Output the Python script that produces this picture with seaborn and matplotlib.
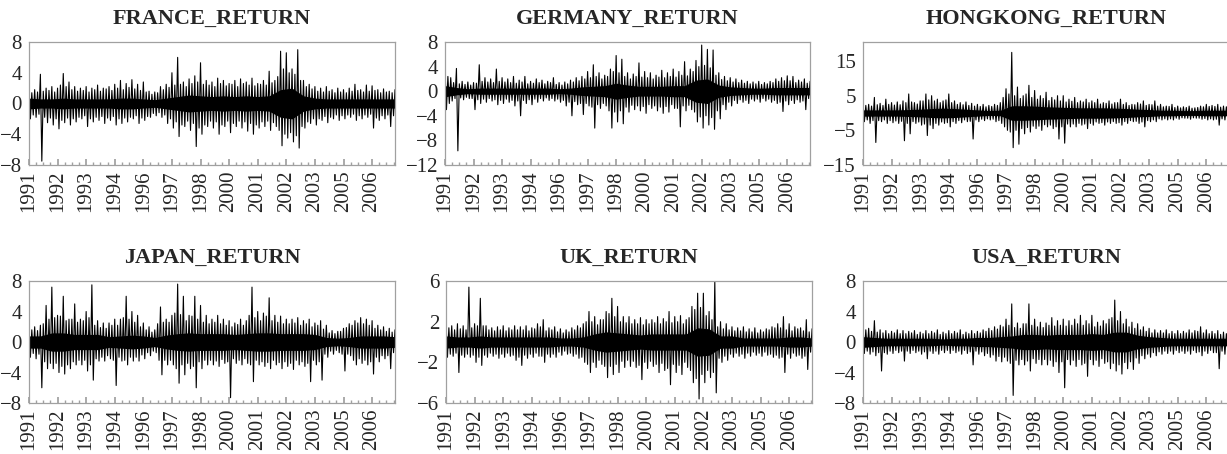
import matplotlib.pyplot as plt
import numpy as np
import pandas as pd
import seaborn as sns
from matplotlib.ticker import MultipleLocator

# tick labels along the observation axis (EViews style, not evenly spaced years)
year_labels = ['1991', '1992', '1993', '1994', '1996', '1997', '1998',
               '2000', '2001', '2002', '2003', '2005', '2006']

# extreme high / low per slot (one slot = 0.2 tick steps)
france_hi = [2.0, 1.8, 3.8, 2.0, 2.2, 2.0, 3.9, 2.8, 2.2, 2.0, 2.2, 2.0, 2.4,
             2.0, 2.2, 2.5, 3.0, 2.6, 3.1, 2.5, 2.8, 1.6, 1.5, 2.2, 2.5, 4.0,
             6.0, 2.8, 3.2, 3.6, 5.3, 3.0, 2.8, 3.3, 3.0, 2.6, 3.0, 3.2, 2.8,
             3.3, 2.6, 3.0, 4.2, 3.0, 6.8, 6.6, 4.5, 7.0, 3.0, 2.5, 2.2, 2.0,
             2.2, 1.8, 2.0, 1.8, 2.0, 2.5, 1.8, 2.4, 2.3, 1.8, 1.9, 1.6, 1.8]
france_lo = [-2.0, -1.8, -7.5, -2.5, -2.8, -3.3, -2.5, -2.8, -2.4, -2.0, -3.0,
             -2.4, -2.2, -2.6, -2.2, -2.8, -2.6, -2.4, -2.0, -2.6, -2.2, -1.8,
             -1.6, -1.8, -2.6, -3.2, -4.3, -3.0, -3.5, -5.6, -4.0, -3.0, -3.2,
             -4.0, -3.0, -3.8, -3.0, -3.2, -3.6, -4.0, -3.2, -3.0, -3.5, -3.0,
             -5.5, -4.5, -5.0, -5.8, -3.2, -2.6, -2.8, -2.2, -2.5, -2.0, -2.2,
             -2.0, -1.8, -2.2, -2.0, -1.8, -3.2, -2.2, -2.0, -3.0, -1.5]
germany_hi = [3.5, 2.2, 3.7, 1.6, 1.5, 1.4, 4.3, 2.2, 2.0, 3.6, 2.2, 2.0, 2.4,
              1.8, 2.4, 1.6, 2.0, 1.8, 1.6, 2.2, 1.4, 1.5, 1.8, 2.2, 2.4, 3.2,
              4.3, 3.0, 2.6, 3.6, 5.8, 5.2, 3.0, 2.8, 4.6, 3.2, 3.0, 2.6, 3.4,
              3.0, 3.6, 3.2, 4.8, 3.6, 5.0, 7.5, 6.8, 6.7, 3.0, 2.4, 2.2, 2.0,
              1.8, 1.6, 1.5, 1.6, 1.4, 1.6, 2.0, 2.2, 2.5, 2.4, 1.8, 2.0, 1.6]
germany_lo = [-3.0, -1.6, -9.7, -1.4, -1.2, -3.0, -2.0, -1.8, -1.6, -2.2, -2.0,
              -1.8, -2.4, -4.0, -2.0, -2.2, -1.8, -1.6, -1.5, -1.6, -1.8, -2.4,
              -4.0, -2.2, -3.8, -2.4, -6.0, -2.8, -2.4, -6.0, -5.0, -5.3, -3.4,
              -3.0, -3.2, -3.6, -2.8, -3.2, -3.6, -3.4, -2.8, -5.8, -3.2, -3.0,
              -5.0, -6.0, -5.5, -6.2, -4.5, -3.0, -2.4, -2.0, -1.8, -2.0, -1.6,
              -1.8, -1.6, -1.8, -2.0, -3.3, -2.2, -2.0, -1.8, -3.0, -1.6]
hongkong_hi = [3.0, 2.5, 4.5, 2.8, 4.0, 3.0, 3.2, 3.5, 5.5, 3.0, 3.5, 5.5, 5.0,
               4.0, 3.5, 5.5, 3.5, 3.0, 3.2, 2.8, 2.5, 2.5, 2.2, 2.5, 3.0, 7.0,
               17.5, 7.5, 5.0, 8.0, 6.5, 5.0, 6.0, 4.5, 5.0, 5.0, 4.0, 4.5, 3.5,
               4.0, 3.5, 4.0, 3.0, 3.5, 3.0, 4.0, 3.0, 2.5, 3.0, 3.5, 2.5, 3.5,
               2.5, 2.0, 2.5, 2.0, 1.8, 2.0, 1.5, 2.0, 2.5, 2.2, 2.5, 2.0, 2.2]
hongkong_lo = [-2.5, -3.0, -8.5, -2.5, -3.0, -2.8, -3.0, -8.0, -6.0, -3.0, -3.5,
               -6.5, -4.5, -3.5, -3.0, -4.0, -3.0, -2.8, -2.5, -7.5, -2.5, -2.2,
               -2.0, -2.5, -3.0, -5.0, -10.0, -9.0, -6.0, -5.5, -4.5, -5.0, -4.0,
               -4.5, -7.5, -8.7, -4.0, -4.0, -3.5, -4.5, -3.5, -3.0, -3.5, -3.0,
               -3.0, -3.5, -3.0, -2.5, -3.0, -4.0, -2.5, -2.5, -2.0, -2.0, -2.0,
               -1.8, -1.5, -1.8, -1.5, -1.8, -2.0, -2.0, -3.5, -2.0, -2.0]
japan_hi = [2.2, 2.0, 2.2, 4.8, 7.2, 3.5, 6.0, 3.0, 5.0, 3.0, 4.0, 7.5, 2.8,
            2.5, 2.5, 3.0, 3.0, 6.0, 4.0, 3.5, 2.5, 2.0, 1.6, 4.6, 3.0, 3.5,
            7.6, 6.0, 3.5, 6.0, 4.8, 3.5, 3.0, 3.5, 3.0, 2.8, 2.5, 3.0, 2.8,
            7.2, 4.0, 3.8, 5.8, 3.5, 3.4, 3.0, 3.0, 3.2, 2.8, 3.0, 2.5, 2.8,
            2.2, 1.5, 1.4, 1.8, 2.4, 2.8, 3.2, 3.0, 2.8, 2.2, 2.0, 1.8, 1.6]
japan_lo = [-2.0, -2.2, -6.0, -3.5, -3.5, -4.0, -4.2, -3.5, -3.0, -3.0, -3.8,
            -5.0, -2.5, -2.5, -2.2, -5.7, -2.5, -3.0, -2.5, -2.5, -2.2, -1.8,
            -1.4, -4.3, -3.0, -3.0, -5.4, -4.3, -3.5, -6.0, -3.5, -3.0, -3.0,
            -3.2, -2.8, -7.3, -2.8, -3.0, -2.8, -5.2, -3.0, -3.2, -3.5, -3.0,
            -3.5, -3.2, -3.6, -3.0, -3.2, -5.2, -3.0, -5.0, -2.0, -1.6, -1.4,
            -3.8, -1.8, -3.0, -2.8, -3.0, -4.2, -2.6, -2.2, -3.5, -1.8]
uk_hi = [2.0, 1.6, 1.8, 1.6, 5.4, 1.8, 4.3, 1.6, 1.4, 1.5, 1.6, 1.4, 1.6,
         1.5, 1.6, 1.4, 1.8, 2.2, 1.4, 1.5, 1.3, 1.2, 1.4, 1.6, 1.8, 3.0,
         2.5, 2.2, 3.0, 4.3, 3.5, 2.5, 2.5, 2.2, 2.4, 2.2, 2.2, 2.5, 2.3,
         3.0, 2.5, 2.6, 2.2, 3.5, 4.8, 4.8, 3.0, 6.0, 2.0, 1.8, 1.5, 1.4,
         1.5, 1.3, 1.4, 1.2, 1.3, 1.5, 1.8, 2.5, 1.8, 1.5, 1.4, 2.2, 1.3]
uk_lo = [-1.5, -1.4, -3.0, -1.5, -1.5, -2.0, -2.3, -1.5, -1.4, -1.6, -1.5,
         -1.4, -1.8, -2.3, -1.6, -1.5, -1.4, -2.0, -1.5, -1.5, -1.3, -1.2,
         -1.4, -1.6, -2.0, -3.0, -2.5, -2.2, -3.5, -3.2, -3.0, -2.5, -2.4,
         -2.5, -3.7, -2.6, -2.4, -3.0, -2.8, -4.2, -3.0, -3.2, -2.5, -4.0,
         -5.6, -4.0, -3.5, -5.0, -2.0, -1.8, -1.5, -1.4, -1.6, -1.4, -1.3,
         -1.4, -1.3, -1.5, -1.6, -3.0, -1.6, -1.4, -1.6, -2.7, -1.2]
usa_hi = [2.2, 1.8, 2.8, 1.6, 1.5, 1.4, 1.6, 1.5, 1.4, 1.5, 1.3, 1.5, 1.4,
          1.6, 1.3, 1.5, 1.4, 1.6, 1.3, 1.5, 1.4, 1.6, 1.8, 2.0, 2.2, 3.0,
          5.0, 2.5, 2.4, 5.0, 3.0, 2.6, 2.5, 3.2, 2.8, 3.0, 2.8, 3.0, 3.5,
          2.8, 3.5, 2.6, 2.8, 3.0, 5.5, 4.0, 3.0, 2.6, 2.4, 2.0, 1.8, 1.6,
          1.5, 1.6, 1.4, 1.5, 1.4, 1.6, 1.5, 2.0, 1.6, 1.4, 1.5, 1.3, 1.4]
usa_lo = [-1.5, -1.6, -1.8, -3.8, -1.6, -1.5, -1.4, -2.5, -1.5, -1.4, -1.6,
          -2.2, -1.5, -1.6, -1.4, -1.5, -1.4, -1.6, -1.5, -3.0, -1.6, -1.8,
          -2.0, -2.5, -2.6, -2.5, -7.0, -3.0, -3.0, -3.8, -2.8, -3.0, -3.0,
          -3.2, -4.0, -6.0, -3.0, -3.2, -3.0, -4.5, -3.0, -3.2, -2.8, -3.5,
          -3.8, -4.2, -3.5, -3.6, -2.8, -2.2, -2.0, -1.8, -1.6, -1.5, -1.6,
          -1.4, -1.5, -1.6, -1.4, -1.8, -1.5, -1.4, -3.5, -1.6, -1.4]

# typical (non-extreme) high / low between the slots above
france_hi_mid = [1.4, 1.5, 1.6, 1.7, 1.5, 2.4, 2.2, 1.8, 1.6, 1.7, 1.5, 1.8, 1.6,
                 1.9, 1.7, 2.0, 1.8, 2.1, 1.9, 1.7, 1.5, 1.2, 1.4, 1.8, 2.1, 2.4,
                 2.5, 2.2, 2.6, 2.8, 2.5, 2.4, 2.2, 2.6, 2.3, 2.5, 2.2, 2.6, 2.4,
                 2.3, 2.5, 2.4, 2.7, 3.5, 4.5, 4.0, 3.8, 3.0, 2.2, 1.9, 1.6, 1.5,
                 1.6, 1.4, 1.5, 1.4, 1.6, 1.7, 1.5, 1.6, 1.7, 1.4, 1.5, 1.4]
france_lo_mid = [-1.5, -1.4, -1.8, -1.9, -2.0, -2.2, -1.9, -2.0, -1.8, -1.6, -2.0,
                 -1.8, -1.7, -1.9, -1.7, -2.0, -1.9, -1.8, -1.6, -1.9, -1.7, -1.3,
                 -1.2, -1.5, -2.0, -2.4, -2.8, -2.3, -2.6, -3.2, -2.8, -2.3, -2.4,
                 -2.8, -2.3, -2.6, -2.3, -2.4, -2.6, -2.8, -2.4, -2.3, -2.5, -3.5,
                 -4.0, -3.8, -4.2, -3.0, -2.4, -2.0, -2.0, -1.7, -1.8, -1.5, -1.6,
                 -1.5, -1.4, -1.6, -1.5, -1.4, -1.9, -1.6, -1.5, -1.6]
germany_hi_mid = [2.4, 1.4, 1.2, 1.1, 1.0, 1.3, 1.6, 1.5, 1.4, 1.6, 1.5, 1.4, 1.3,
                  1.5, 1.2, 1.3, 1.4, 1.2, 1.4, 1.1, 1.0, 1.2, 1.5, 1.7, 2.0, 2.2,
                  2.4, 2.0, 2.4, 3.2, 3.0, 2.4, 2.0, 2.4, 2.3, 2.2, 2.0, 2.3, 2.2,
                  2.4, 2.3, 2.6, 2.5, 3.2, 4.0, 4.2, 3.8, 2.6, 1.9, 1.7, 1.5, 1.4,
                  1.3, 1.2, 1.2, 1.1, 1.2, 1.4, 1.6, 1.7, 1.7, 1.4, 1.5, 1.3]
germany_lo_mid = [-2.0, -1.2, -1.1, -1.0, -1.2, -1.4, -1.3, -1.2, -1.4, -1.5, -1.3,
                  -1.5, -1.6, -1.5, -1.4, -1.3, -1.2, -1.1, -1.2, -1.3, -1.5, -1.8,
                  -1.7, -2.0, -2.0, -2.6, -2.2, -2.0, -3.2, -3.4, -3.2, -2.6, -2.3,
                  -2.4, -2.5, -2.2, -2.4, -2.6, -2.5, -2.2, -2.8, -2.4, -2.3, -3.4,
                  -4.2, -4.0, -4.3, -3.2, -2.2, -1.8, -1.5, -1.4, -1.5, -1.3, -1.3,
                  -1.2, -1.3, -1.5, -1.8, -1.6, -1.5, -1.4, -1.6, -1.2]
hongkong_hi_mid = [2.2, 2.0, 2.4, 2.2, 2.5, 2.3, 2.4, 3.0, 3.2, 2.6, 3.5, 3.8, 3.5,
                   3.0, 3.8, 3.0, 2.5, 2.4, 2.2, 2.0, 1.9, 1.8, 1.9, 2.2, 4.5, 5.5,
                   5.0, 4.2, 5.5, 4.5, 4.0, 4.2, 3.6, 3.8, 3.5, 3.2, 3.4, 3.0, 3.2,
                   3.0, 3.0, 2.6, 2.8, 2.6, 3.0, 2.5, 2.2, 2.4, 2.6, 2.2, 2.4, 2.0,
                   1.8, 1.9, 1.6, 1.5, 1.6, 1.4, 1.6, 1.8, 1.9, 1.9, 1.7, 1.8]
hongkong_lo_mid = [-2.0, -2.2, -2.2, -2.0, -2.2, -2.3, -2.4, -3.0, -2.5, -2.6, -3.2,
                   -3.5, -3.0, -2.6, -2.8, -2.5, -2.2, -2.0, -2.4, -2.0, -1.8, -1.7,
                   -1.8, -2.2, -4.0, -5.5, -5.0, -4.5, -4.2, -3.8, -3.8, -3.4, -3.5,
                   -4.0, -4.0, -3.2, -3.2, -3.0, -3.2, -3.0, -2.6, -2.8, -2.6, -2.5,
                   -2.8, -2.5, -2.2, -2.4, -2.6, -2.2, -2.0, -1.7, -1.7, -1.7, -1.5,
                   -1.4, -1.5, -1.4, -1.5, -1.6, -1.7, -1.8, -1.7, -1.6]
japan_hi_mid = [1.6, 1.5, 2.4, 3.0, 3.2, 3.4, 2.8, 3.0, 2.6, 2.8, 3.2, 2.2, 1.9,
                1.8, 2.2, 2.2, 3.2, 3.0, 2.6, 2.0, 1.6, 1.3, 2.4, 2.6, 2.6, 3.8,
                3.6, 2.8, 3.4, 3.0, 2.6, 2.4, 2.6, 2.4, 2.2, 2.0, 2.3, 2.2, 3.5,
                3.2, 2.8, 3.4, 2.8, 2.6, 2.4, 2.4, 2.5, 2.2, 2.4, 2.0, 2.2, 1.7,
                1.2, 1.1, 1.4, 1.9, 2.2, 2.5, 2.4, 2.2, 1.8, 1.6, 1.4, 1.3]
japan_lo_mid = [-1.5, -1.6, -2.6, -2.8, -2.8, -3.2, -3.0, -2.6, -2.4, -2.4, -3.0,
                -2.2, -2.0, -1.8, -2.4, -2.0, -2.4, -2.0, -2.0, -1.7, -1.4, -1.2,
                -2.4, -2.4, -2.4, -3.5, -3.0, -2.8, -3.2, -2.6, -2.4, -2.4, -2.5,
                -2.3, -2.6, -2.2, -2.4, -2.2, -3.0, -2.4, -2.6, -2.7, -2.4, -2.7,
                -2.6, -2.8, -2.4, -2.6, -2.8, -2.4, -2.6, -1.6, -1.2, -1.1, -1.6,
                -1.6, -2.4, -2.2, -2.4, -2.6, -2.0, -1.8, -1.8, -1.4]
uk_hi_mid = [1.4, 1.2, 1.3, 1.2, 1.4, 1.6, 1.6, 1.2, 1.1, 1.2, 1.1, 1.2, 1.2,
             1.2, 1.1, 1.3, 1.5, 1.1, 1.2, 1.0, 0.9, 1.0, 1.2, 1.4, 2.0, 2.0,
             1.7, 2.2, 2.8, 2.5, 2.0, 1.9, 1.8, 1.8, 1.7, 1.8, 1.9, 1.8, 2.0,
             1.9, 2.0, 1.8, 2.4, 3.2, 3.4, 2.6, 2.2, 1.5, 1.3, 1.2, 1.1, 1.1,
             1.0, 1.0, 0.9, 1.0, 1.2, 1.4, 1.4, 1.2, 1.1, 1.3, 1.1, 1.0]
uk_lo_mid = [-1.2, -1.1, -1.3, -1.2, -1.3, -1.5, -1.3, -1.1, -1.2, -1.2, -1.1,
             -1.3, -1.5, -1.3, -1.2, -1.1, -1.4, -1.2, -1.2, -1.0, -0.9, -1.1,
             -1.2, -1.5, -2.2, -2.0, -1.8, -2.4, -2.4, -2.2, -1.9, -1.8, -1.9,
             -2.3, -2.0, -1.9, -2.2, -2.1, -2.6, -2.2, -2.3, -2.0, -2.8, -3.6,
             -3.2, -2.8, -3.0, -1.6, -1.4, -1.2, -1.1, -1.2, -1.1, -1.0, -1.1,
             -1.0, -1.2, -1.3, -1.5, -1.2, -1.1, -1.3, -1.4, -1.0]
usa_hi_mid = [1.6, 1.4, 1.3, 1.2, 1.1, 1.2, 1.1, 1.1, 1.2, 1.0, 1.1, 1.1, 1.2,
              1.0, 1.1, 1.1, 1.2, 1.0, 1.1, 1.1, 1.2, 1.4, 1.5, 1.7, 2.0, 2.2,
              1.9, 1.8, 2.4, 2.2, 2.0, 1.9, 2.2, 2.1, 2.2, 2.1, 2.2, 2.4, 2.2,
              2.4, 2.0, 2.1, 2.4, 3.2, 2.8, 2.4, 2.0, 1.8, 1.6, 1.4, 1.2, 1.2,
              1.2, 1.1, 1.1, 1.1, 1.2, 1.2, 1.4, 1.2, 1.1, 1.1, 1.0, 1.1]
usa_lo_mid = [-1.2, -1.3, -1.4, -1.4, -1.2, -1.1, -1.2, -1.2, -1.1, -1.2, -1.3,
              -1.2, -1.2, -1.1, -1.1, -1.1, -1.2, -1.1, -1.3, -1.2, -1.3, -1.5,
              -1.7, -1.9, -2.0, -2.8, -2.4, -2.3, -2.5, -2.2, -2.3, -2.3, -2.4,
              -2.6, -2.6, -2.3, -2.4, -2.3, -2.8, -2.3, -2.4, -2.2, -2.6, -2.8,
              -3.0, -2.7, -2.6, -2.1, -1.8, -1.6, -1.4, -1.3, -1.2, -1.2, -1.1,
              -1.2, -1.2, -1.1, -1.3, -1.2, -1.1, -1.4, -1.2, -1.1]

# half width of the solid black core (one value every 0.4 tick steps)
france_core = [0.7, 0.6, 0.6, 0.7, 0.6, 0.6, 0.6, 0.6, 0.7, 0.7, 0.6, 0.5, 0.7,
               0.9, 1.1, 1.0, 0.9, 1.0, 0.9, 1.0, 0.9, 1.0, 1.8, 2.0, 1.0, 0.7,
               0.6, 0.6, 0.6, 0.6, 0.6, 0.6, 0.6]
germany_core = [0.9, 0.6, 0.4, 0.5, 0.5, 0.5, 0.5, 0.5, 0.5, 0.5, 0.4, 0.5, 0.7,
                0.8, 0.9, 1.3, 1.0, 0.8, 0.8, 0.8, 0.9, 0.9, 1.8, 2.0, 1.0, 0.7,
                0.6, 0.5, 0.5, 0.6, 0.6, 0.6, 0.6]
hongkong_core = [0.9, 0.9, 0.9, 0.9, 1.0, 1.1, 1.3, 1.4, 1.3, 1.1, 0.9, 0.7, 0.8,
                 2.1, 2.1, 2.0, 1.8, 1.7, 1.6, 1.5, 1.5, 1.5, 1.4, 1.3, 1.1, 1.0,
                 0.8, 0.8, 0.7, 0.7, 0.8, 0.8, 0.8]
japan_core = [0.8, 0.8, 1.2, 1.2, 1.0, 1.0, 1.0, 0.7, 0.8, 0.9, 0.8, 0.6, 0.9,
              1.1, 1.2, 1.1, 1.1, 1.1, 1.0, 1.1, 1.2, 1.2, 1.1, 1.1, 1.1, 1.0,
              0.6, 0.5, 0.6, 0.8, 0.8, 0.8, 0.7]
uk_core = [0.6, 0.5, 0.5, 0.6, 0.5, 0.5, 0.5, 0.5, 0.5, 0.5, 0.4, 0.4, 0.5,
           0.8, 1.0, 0.9, 0.8, 0.7, 0.8, 0.8, 0.8, 0.8, 1.4, 1.3, 0.6, 0.6,
           0.4, 0.4, 0.4, 0.4, 0.5, 0.5, 0.4]
usa_core = [0.7, 0.6, 0.5, 0.5, 0.5, 0.5, 0.5, 0.4, 0.5, 0.5, 0.6, 0.6, 0.7,
            0.8, 1.0, 1.0, 0.9, 1.0, 1.0, 1.0, 1.1, 1.0, 1.3, 1.3, 0.9, 0.7,
            0.6, 0.5, 0.5, 0.5, 0.5, 0.5, 0.5]

titles = ['FRANCE_RETURN', 'GERMANY_RETURN', 'HONGKONG_RETURN',
          'JAPAN_RETURN', 'UK_RETURN', 'USA_RETURN']
highs = [france_hi, germany_hi, hongkong_hi, japan_hi, uk_hi, usa_hi]
lows = [france_lo, germany_lo, hongkong_lo, japan_lo, uk_lo, usa_lo]
highs_mid = [france_hi_mid, germany_hi_mid, hongkong_hi_mid,
             japan_hi_mid, uk_hi_mid, usa_hi_mid]
lows_mid = [france_lo_mid, germany_lo_mid, hongkong_lo_mid,
            japan_lo_mid, uk_lo_mid, usa_lo_mid]
cores = [france_core, germany_core, hongkong_core, japan_core, uk_core, usa_core]
ylims = [(-8, 8), (-12, 8), (-15, 20.5), (-8, 8), (-6, 6), (-8, 8)]
yticks = [[-8, -4, 0, 4, 8], [-12, -8, -4, 0, 4, 8], [-15, -5, 5, 15],
          [-8, -4, 0, 4, 8], [-6, -2, 2, 6], [-8, -4, 0, 4, 8]]

sns.set_theme(style='white')
plt.rcParams['font.family'] = ['Liberation Serif', 'DejaVu Serif']

fig = plt.figure(figsize=(12.27, 4.54), dpi=100)

# axes boxes in figure fraction [left, bottom, width, height]
boxes = [[0.0236, 0.6366, 0.2983, 0.2709], [0.3627, 0.6366, 0.2975, 0.2709],
         [0.7033, 0.6366, 0.2985, 0.2709], [0.0236, 0.1123, 0.2983, 0.2687],
         [0.3635, 0.1123, 0.2983, 0.2687], [0.7033, 0.1123, 0.2985, 0.2687]]

x_end = 12.8
for i in range(6):
    ax = fig.add_axes(boxes[i])
    slot = np.linspace(0, x_end, len(highs[i]))
    step = slot[1] - slot[0]
    mid = np.linspace(step / 2, x_end - step / 2, len(highs_mid[i]))
    # zigzag order: high, low, typical high, typical low, next high ...
    parts = [pd.DataFrame({'obs': slot, 'ret': highs[i]}),
             pd.DataFrame({'obs': slot + step / 4, 'ret': lows[i]}),
             pd.DataFrame({'obs': mid, 'ret': highs_mid[i]}),
             pd.DataFrame({'obs': mid + step / 4, 'ret': lows_mid[i]})]
    df = pd.concat(parts).sort_values('obs', kind='stable')

    core = np.array(cores[i])
    core_x = np.linspace(0, x_end, len(core))
    ax.fill_between(core_x, -core, core, color='black', lw=0)
    sns.lineplot(data=df, x='obs', y='ret', ax=ax, color='black',
                 lw=0.8, sort=False, estimator=None)

    ax.set_xlim(0, x_end)
    ax.set_ylim(*ylims[i])
    ax.set_xticks(range(len(year_labels)))
    ax.set_xticklabels(year_labels, rotation=90)
    ax.xaxis.set_minor_locator(MultipleLocator(0.25))
    ax.set_yticks(yticks[i])
    ax.set_xlabel('')
    ax.set_ylabel('')
    ax.set_title(titles[i], fontsize=16, fontweight='bold', pad=13)
    ax.tick_params(axis='x', which='major', direction='in', length=4,
                   color='#a0a0a0', labelsize=15, pad=4, bottom=True)
    ax.tick_params(axis='x', which='minor', direction='in', length=2,
                   color='#a0a0a0', bottom=True)
    ax.tick_params(axis='y', length=0, labelsize=15, pad=5)
    for sp in ax.spines.values():
        sp.set_color('#a0a0a0')
        sp.set_linewidth(0.9)

fig.savefig('out.png', dpi=100)
